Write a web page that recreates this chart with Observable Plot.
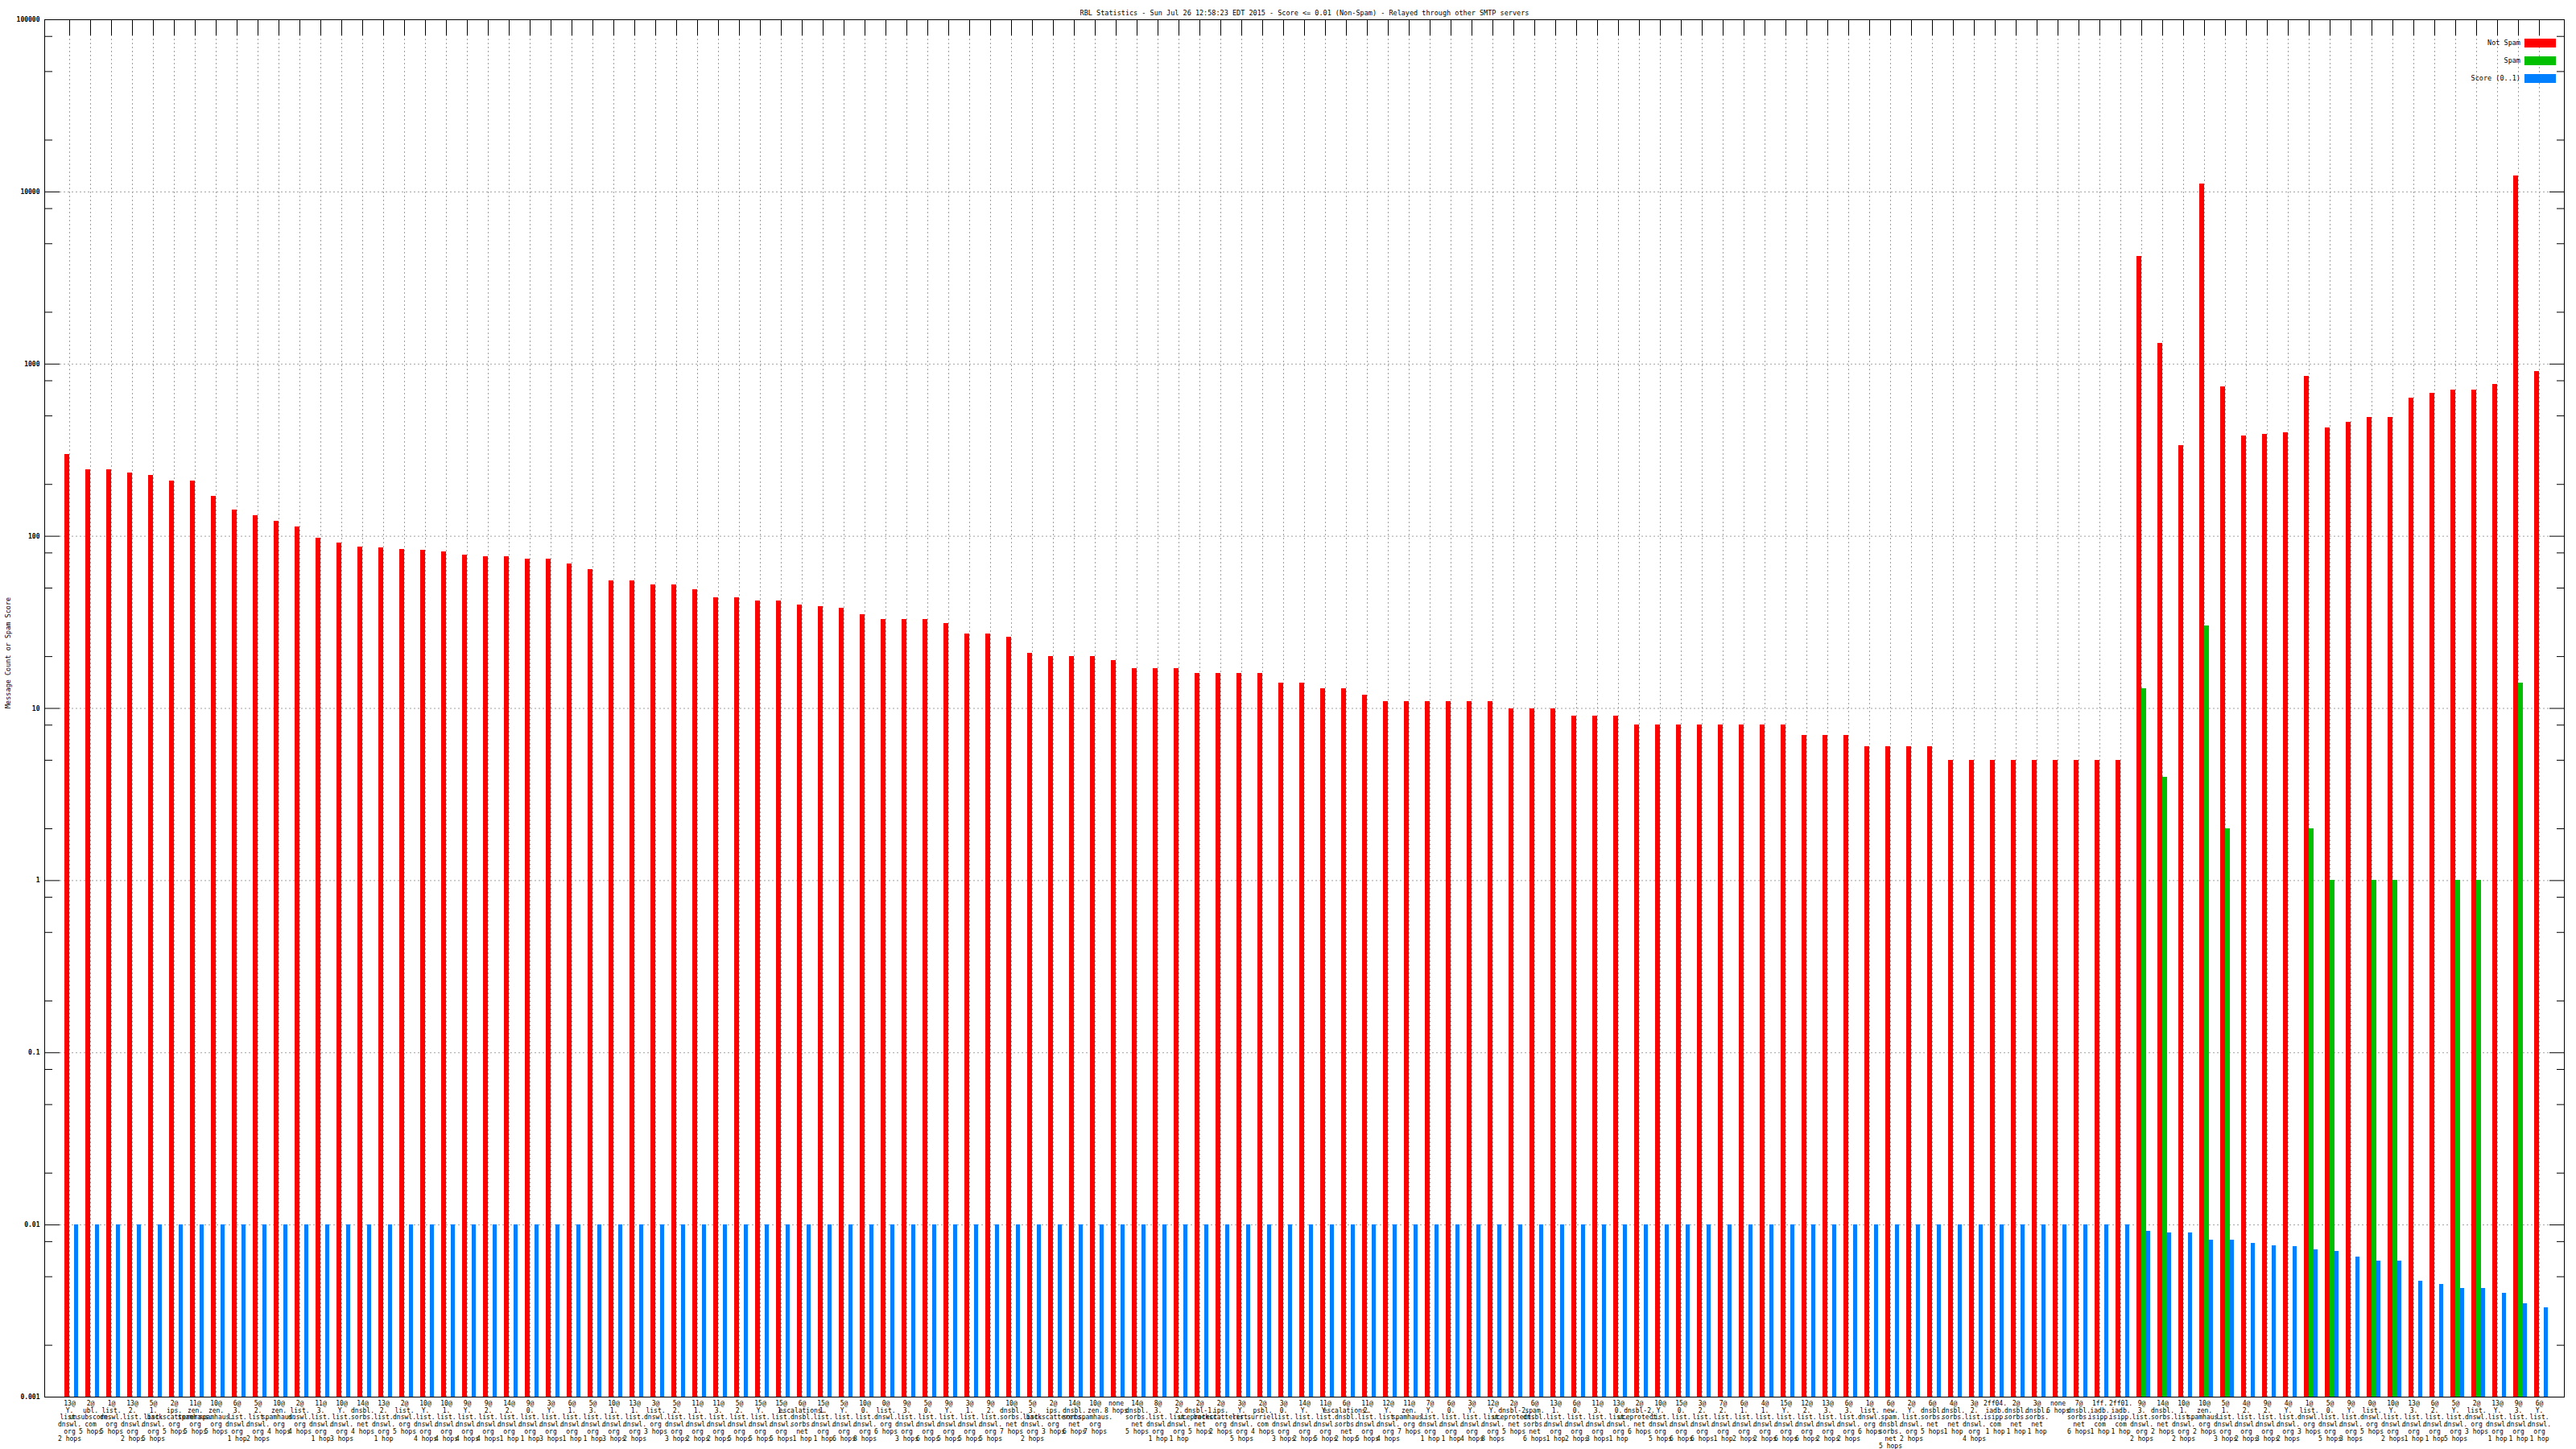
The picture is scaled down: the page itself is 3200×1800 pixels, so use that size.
<!DOCTYPE html>
<html>
<head>
<meta charset="utf-8">
<script src="https://cdn.jsdelivr.net/npm/d3@7"></script>
<script src="https://cdn.jsdelivr.net/npm/@observablehq/plot@0.6"></script>
<style>
  html, body { margin: 0; padding: 0; background: #ffffff; }
  #wrap { position: relative; width: 3200px; height: 1800px; }
  .legtext { position: absolute; font-family: "DejaVu Sans Mono", monospace; font-size: 8.5px; color: #000; text-align: right; white-space: pre; line-height: 11px; height: 11px; }
  .legsw { position: absolute; width: 39px; height: 11px; }
</style>
</head>
<body>
<div id="wrap"></div>
<script>
// ---------- data ----------
const title = "RBL Statistics - Sun Jul 26 12:58:23 EDT 2015 - Score <= 0.01 (Non-Spam) - Relayed through other SMTP servers";
const yTitle = "Message Count or Spam Score";
const seriesNames = ["Not Spam", "Spam", "Score (0..1)"];
const seriesColors = ["#ff0000", "#00c000", "#0080ff"];

const labels = [
  "13@Y.list.dnswl.org 2 hops", "2@ubl.unsubscore.com 5 hops", "1@list.dnswl.org 5 hops", "13@2.list.dnswl.org 2 hops",
  "5@1.list.dnswl.org 5 hops", "2@ips.backscatterer.org 5 hops", "11@zen.spamhaus.org 5 hops", "10@zen.spamhaus.org 5 hops",
  "6@3.list.dnswl.org 1 hop", "5@2.list.dnswl.org 2 hops", "10@zen.spamhaus.org 4 hops", "2@list.dnswl.org 4 hops",
  "11@3.list.dnswl.org 1 hop", "10@Y.list.dnswl.org 3 hops", "14@dnsbl.sorbs.net 4 hops", "13@2.list.dnswl.org 1 hop",
  "2@list.dnswl.org 5 hops", "10@Y.list.dnswl.org 4 hops", "10@1.list.dnswl.org 4 hops", "9@Y.list.dnswl.org 4 hops",
  "9@2.list.dnswl.org 4 hops", "14@2.list.dnswl.org 1 hop", "9@0.list.dnswl.org 1 hop", "3@Y.list.dnswl.org 3 hops",
  "6@1.list.dnswl.org 1 hop", "5@3.list.dnswl.org 1 hop", "10@1.list.dnswl.org 3 hops", "13@1.list.dnswl.org 2 hops",
  "3@list.dnswl.org 3 hops", "5@2.list.dnswl.org 3 hops", "11@1.list.dnswl.org 2 hops", "11@3.list.dnswl.org 2 hops",
  "5@2.list.dnswl.org 5 hops", "15@Y.list.dnswl.org 5 hops", "15@1.list.dnswl.org 5 hops", "6@escalations.dnsbl.sorbs.net 1 hop",
  "15@1.list.dnswl.org 1 hop", "5@Y.list.dnswl.org 6 hops", "10@0.list.dnswl.org 8 hops", "0@list.dnswl.org 6 hops",
  "9@3.list.dnswl.org 3 hops", "5@0.list.dnswl.org 6 hops", "9@Y.list.dnswl.org 5 hops", "3@1.list.dnswl.org 5 hops",
  "9@2.list.dnswl.org 5 hops", "10@dnsbl.sorbs.net 7 hops", "5@3.list.dnswl.org 2 hops", "2@ips.backscatterer.org 3 hops",
  "14@dnsbl.sorbs.net 6 hops", "10@zen.spamhaus.org 7 hops", "none 8 hops", "14@dnsbl.sorbs.net 5 hops",
  "8@3.list.dnswl.org 1 hop", "2@2.list.dnswl.org 1 hop", "2@dnsbl-1.uceprotect.net 5 hops", "2@ips.backscatterer.org 2 hops",
  "3@Y.list.dnswl.org 5 hops", "2@psbl.surriel.com 4 hops", "3@0.list.dnswl.org 3 hops", "14@Y.list.dnswl.org 2 hops",
  "11@Y.list.dnswl.org 5 hops", "6@escalations.dnsbl.sorbs.net 2 hops", "11@2.list.dnswl.org 5 hops", "12@Y.list.dnswl.org 4 hops",
  "11@zen.spamhaus.org 7 hops", "7@Y.list.dnswl.org 1 hop", "6@0.list.dnswl.org 1 hop", "3@Y.list.dnswl.org 4 hops",
  "12@Y.list.dnswl.org 8 hops", "2@dnsbl-2.uceprotect.net 5 hops", "6@spam.dnsbl.sorbs.net 6 hops", "13@1.list.dnswl.org 1 hop",
  "6@0.list.dnswl.org 2 hops", "11@3.list.dnswl.org 3 hops", "13@0.list.dnswl.org 1 hop", "2@dnsbl-2.uceprotect.net 6 hops",
  "10@Y.list.dnswl.org 5 hops", "15@0.list.dnswl.org 6 hops", "3@2.list.dnswl.org 6 hops", "7@2.list.dnswl.org 1 hop",
  "6@1.list.dnswl.org 2 hops", "4@1.list.dnswl.org 2 hops", "15@Y.list.dnswl.org 6 hops", "12@2.list.dnswl.org 6 hops",
  "13@3.list.dnswl.org 2 hops", "6@3.list.dnswl.org 2 hops", "1@list.dnswl.org 6 hops", "6@new.spam.dnsbl.sorbs.net 5 hops",
  "2@Y.list.dnswl.org 2 hops", "6@dnsbl.sorbs.net 5 hops", "4@dnsbl.sorbs.net 1 hop", "3@2.list.dnswl.org 4 hops",
  "2ff04.iadb.isipp.com 1 hop", "2@dnsbl.sorbs.net 1 hop", "3@dnsbl.sorbs.net 1 hop", "none 6 hops",
  "7@dnsbl.sorbs.net 6 hops", "1ff.iadb.isipp.com 1 hop", "2ff01.iadb.isipp.com 1 hop", "9@3.list.dnswl.org 2 hops",
  "14@dnsbl.sorbs.net 2 hops", "10@1.list.dnswl.org 2 hops", "10@zen.spamhaus.org 2 hops", "5@1.list.dnswl.org 3 hops",
  "4@2.list.dnswl.org 2 hops", "9@2.list.dnswl.org 3 hops", "4@Y.list.dnswl.org 2 hops", "1@list.dnswl.org 3 hops",
  "5@0.list.dnswl.org 5 hops", "9@Y.list.dnswl.org 3 hops", "0@list.dnswl.org 5 hops", "10@Y.list.dnswl.org 2 hops",
  "13@3.list.dnswl.org 1 hop", "6@2.list.dnswl.org 1 hop", "5@Y.list.dnswl.org 5 hops", "2@list.dnswl.org 3 hops",
  "13@Y.list.dnswl.org 1 hop", "9@3.list.dnswl.org 1 hop", "6@Y.list.dnswl.org 1 hop"
];

const notSpam = [
  300, 244, 244, 233, 226, 210, 210, 171, 142, 132, 122, 113, 98, 91, 87, 86, 84, 83, 81, 78,
  76, 76, 74, 74, 69, 64, 55, 55, 52, 52, 49, 44, 44, 42, 42, 40, 39, 38, 35, 33,
  33, 33, 31, 27, 27, 26, 21, 20, 20, 20, 19, 17, 17, 17, 16, 16, 16, 16, 14, 14,
  13, 13, 12, 11, 11, 11, 11, 11, 11, 10, 10, 10, 9, 9, 9, 8, 8, 8, 8, 8,
  8, 8, 8, 7, 7, 7, 6, 6, 6, 6, 5, 5, 5, 5, 5, 5, 5, 5, 5, 4210,
  1313, 336, 11070, 741, 384, 392, 400, 846, 428, 457, 489, 489, 636, 679, 710, 710, 758, 12350, 904
];

const spam = [
  0, 0, 0, 0, 0, 0, 0, 0, 0, 0, 0, 0, 0, 0, 0, 0, 0, 0, 0, 0,
  0, 0, 0, 0, 0, 0, 0, 0, 0, 0, 0, 0, 0, 0, 0, 0, 0, 0, 0, 0,
  0, 0, 0, 0, 0, 0, 0, 0, 0, 0, 0, 0, 0, 0, 0, 0, 0, 0, 0, 0,
  0, 0, 0, 0, 0, 0, 0, 0, 0, 0, 0, 0, 0, 0, 0, 0, 0, 0, 0, 0,
  0, 0, 0, 0, 0, 0, 0, 0, 0, 0, 0, 0, 0, 0, 0, 0, 0, 0, 0, 13,
  4, 0, 30, 2, 0, 0, 0, 2, 1, 0, 1, 1, 0, 0, 1, 1, 0, 14, 0
];

const score = [
  0.01, 0.01, 0.01, 0.01, 0.01, 0.01, 0.01, 0.01, 0.01, 0.01, 0.01, 0.01, 0.01, 0.01, 0.01, 0.01, 0.01, 0.01, 0.01, 0.01,
  0.01, 0.01, 0.01, 0.01, 0.01, 0.01, 0.01, 0.01, 0.01, 0.01, 0.01, 0.01, 0.01, 0.01, 0.01, 0.01, 0.01, 0.01, 0.01, 0.01,
  0.01, 0.01, 0.01, 0.01, 0.01, 0.01, 0.01, 0.01, 0.01, 0.01, 0.01, 0.01, 0.01, 0.01, 0.01, 0.01, 0.01, 0.01, 0.01, 0.01,
  0.01, 0.01, 0.01, 0.01, 0.01, 0.01, 0.01, 0.01, 0.01, 0.01, 0.01, 0.01, 0.01, 0.01, 0.01, 0.01, 0.01, 0.01, 0.01, 0.01,
  0.01, 0.01, 0.01, 0.01, 0.01, 0.01, 0.01, 0.01, 0.01, 0.01, 0.01, 0.01, 0.01, 0.01, 0.01, 0.01, 0.01, 0.01, 0.01, 0.0092,
  0.0090, 0.0090, 0.0082, 0.0082, 0.0078, 0.0076, 0.0075, 0.0072, 0.0070, 0.0065, 0.0062, 0.0062, 0.0047, 0.0045, 0.0043, 0.0043, 0.0040, 0.0035, 0.0033
];

const yMajor = [0.001, 0.01, 0.1, 1, 10, 100, 1000, 10000, 100000];
const yTickLabels = ["0.001", "0.01", "0.1", "1", "10", "100", "1000", "10000", "100000"];
const yMinor = [0.002, 0.005, 0.008, 0.02, 0.05, 0.08, 0.2, 0.5, 0.8, 2, 5, 8, 20, 50, 80,
                200, 500, 800, 2000, 5000, 8000, 20000, 50000, 80000];
const yGridLines = [0.01, 0.1, 1, 10, 100, 1000, 10000];

// ---------- chart ----------
const idx = labels.map((_, i) => i);
const fmt = s => s.replace(/\./g, ".\n").replace(" ", "\n").replace("@", "@\n");
const mono = "DejaVu Sans Mono";
const base = 0.001;

const chart = Plot.plot({
  width: 3200,
  height: 1800,
  marginLeft: 55,
  marginRight: 15,
  marginTop: 24,
  marginBottom: 65,
  style: {fontFamily: mono, fontSize: "8px", background: "#ffffff", color: "#000000"},
  x: {type: "band", domain: idx, padding: 0, insetLeft: 13.2, insetRight: 14, axis: null},
  y: {type: "log", domain: [0.001, 100000], axis: null},
  marks: [
    Plot.gridX(idx, {stroke: "#a0a0a0", strokeOpacity: 1, strokeDasharray: "2,3", insetTop: 19}),
    Plot.gridY(yGridLines, {stroke: "#a0a0a0", strokeOpacity: 1, strokeDasharray: "2,3", insetLeft: 19, insetRight: 19}),
    Plot.barY(idx, {x: i => i, y1: base, y2: i => notSpam[i], fill: seriesColors[0], insetLeft: 7.37, insetRight: 13.04, shapeRendering: "crispEdges"}),
    Plot.barY(idx.filter(i => spam[i] > 0), {x: i => i, y1: base, y2: i => spam[i], fill: seriesColors[1], insetLeft: 13.04, insetRight: 7.37, shapeRendering: "crispEdges"}),
    Plot.barY(idx, {x: i => i, y1: base, y2: i => score[i], fill: seriesColors[2], insetLeft: 18.71, insetRight: 1.7, shapeRendering: "crispEdges"}),
    Plot.frame({stroke: "#000000", strokeWidth: 1}),
    // y ticks (inward), left and right
    Plot.axisY(yMajor, {anchor: "left", tickSize: 19, dx: 19, tickFormat: () => "", label: null, stroke: "#000"}),
    Plot.axisY(yMinor, {anchor: "left", tickSize: 10, dx: 10, tickFormat: () => "", label: null, stroke: "#000"}),
    Plot.axisY(yMajor, {anchor: "right", tickSize: 19, dx: -19, tickFormat: () => "", label: null, stroke: "#000"}),
    Plot.axisY(yMinor, {anchor: "right", tickSize: 10, dx: -10, tickFormat: () => "", label: null, stroke: "#000"}),
    Plot.axisY(yMajor, {anchor: "left", tickSize: 0, tickPadding: 6, fontWeight: "bold", fontSize: 8,
      tickFormat: d => yTickLabels[yMajor.indexOf(d)], label: null}),
    // x ticks (inward at top)
    Plot.axisX(idx, {anchor: "top", tickSize: 19, dy: 19, tickFormat: () => "", label: null, stroke: "#000"}),
    Plot.axisX(idx, {anchor: "bottom", tickSize: 0, tickPadding: 4, fontSize: 8, lineHeight: 1.1,
      tickFormat: i => fmt(labels[i]), label: null}),
    Plot.text([title], {text: d => d, frameAnchor: "top", dy: -12, fontSize: 8.5, fill: "#000"}),
    Plot.text([yTitle], {text: d => d, frameAnchor: "left", rotate: -90, dx: -45, fontSize: 8.5, fill: "#000"})
  ]
});

const wrap = document.getElementById("wrap");
wrap.appendChild(chart);

// legend (inside plot, top right)
seriesNames.forEach((name, k) => {
  const top = 48 + k * 22;
  const t = document.createElement("div");
  t.className = "legtext";
  t.style.right = (3200 - 3131) + "px";
  t.style.top = top + "px";
  t.textContent = name;
  wrap.appendChild(t);
  const s = document.createElement("div");
  s.className = "legsw";
  s.style.left = "3136px";
  s.style.top = top + "px";
  s.style.background = seriesColors[k];
  wrap.appendChild(s);
});
</script>
</body>
</html>
